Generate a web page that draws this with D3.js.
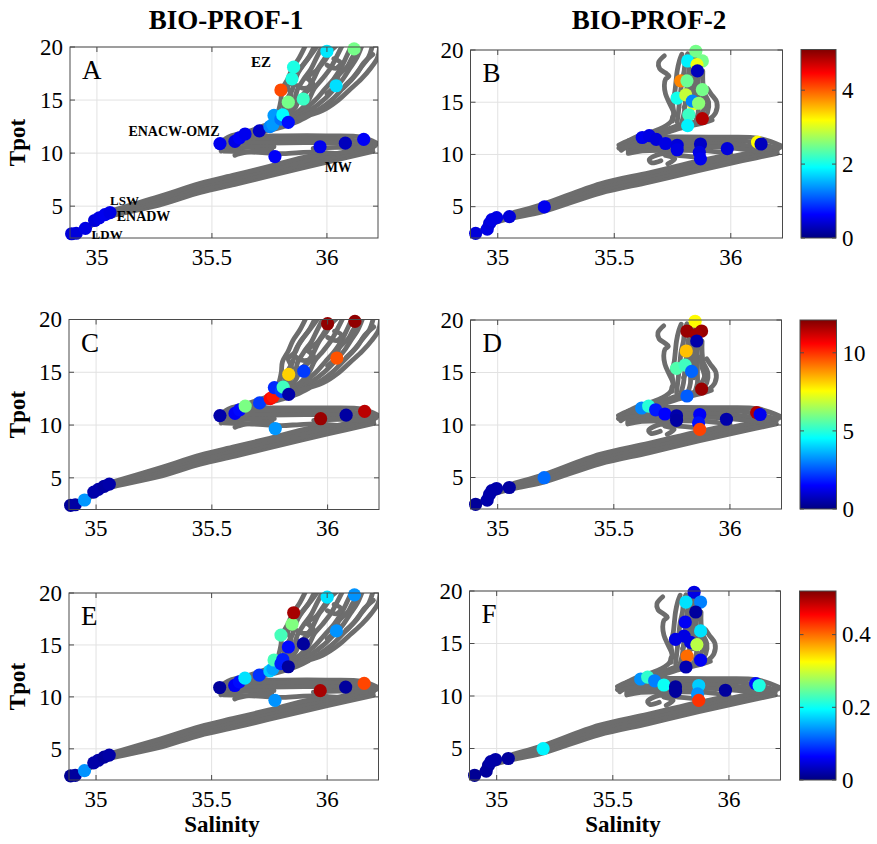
<!DOCTYPE html>
<html><head><meta charset="utf-8">
<script src="https://cdn.jsdelivr.net/npm/d3@7"></script>
<style>
body{margin:0;background:#fff}
svg{display:block}
text{font-family:"Liberation Serif","Times New Roman",serif;fill:#000}
</style>
</head><body>
<svg id="chart" width="877" height="844"></svg>
<script>
// ---------- axes ----------
const salDomain = [34.883, 36.222];
const tpotDomain = [2, 20];
const salTicks = [35, 35.5, 36];
const salTickLabels = ['35', '35.5', '36'];
const tpotTicks = [5, 10, 15, 20];
const columnTitles = ['BIO-PROF-1', 'BIO-PROF-2'];
const panelLetters = ['A', 'B', 'C', 'D', 'E', 'F'];

// colour bars, one per row
const cbMax = [5.1, 12.1, 0.52];
const cbTicks = [[0, 2, 4], [0, 5, 10], [0, 0.2, 0.4]];
const cbTickLabels = [['0', '2', '4'], ['0', '5', '10'], ['0', '0.2', '0.4']];

// ---------- CTD T-S traces (salinity, potential temperature) ----------
const prof1Traces = [
  // deep water and the main thermocline
  [[34.89,2.4],[34.95,2.85],[35.0,3.5],[35.05,4.0],[35.27,5.1],[35.45,6.3],[35.6,7.05],[35.75,7.85],[36.0,9.15],[36.2,10.15]],
  [[34.9,2.5],[34.96,3.1],[35.02,3.85],[35.06,4.25],[35.27,5.4],[35.45,6.6],[35.6,7.35],[35.75,8.15],[36.0,9.45],[36.2,10.45]],
  [[35.06,4.45],[35.27,5.65],[35.45,6.9],[35.6,7.65],[35.75,8.45],[36.0,9.75],[36.21,10.7]],
  [[35.07,4.6],[35.27,5.9],[35.45,7.15],[35.6,7.95],[35.75,8.75],[35.9,9.6],[36.0,10.0]],
  // Mediterranean water tongue
  [[36.22,10.9],[36.15,11.5],[36.0,11.62],[35.8,11.62],[35.65,11.55],[35.57,11.35],[35.535,11.0]],
  [[36.21,10.75],[36.1,11.25],[35.9,11.3],[35.7,11.3],[35.58,11.15],[35.53,10.8]],
  [[36.19,10.6],[36.05,10.95],[35.9,10.98],[35.75,10.95],[35.6,10.85],[35.53,10.55]],
  [[36.17,10.45],[36.05,10.55],[35.94,10.45]],
  [[35.77,10.6],[35.65,10.55],[35.56,10.35],[35.54,10.2]],
  [[36.05,9.95],[35.95,10.1],[35.88,10.05],[35.8,9.95],[35.72,10.05],[35.62,10.15],[35.55,10.2]],
  [[35.76,10.35],[35.7,10.25],[35.62,9.95],[35.6,9.8]],
  // ENACW towards the surface layer
  [[35.535,11.0],[35.58,11.6],[35.65,12.0],[35.71,12.45],[35.76,12.9],[35.78,13.5]],
  [[35.6,11.55],[35.68,11.95],[35.74,12.35],[35.8,12.75],[35.86,13.15]],
  [[35.66,11.7],[35.74,12.1],[35.81,12.5],[35.87,12.95],[35.92,13.5]],
  [[35.78,13.3],[35.79,14],[35.8,15],[35.805,16],[35.83,17],[35.85,18],[35.88,19],[35.91,20.3]],
  [[35.79,13.5],[35.81,14],[35.825,15],[35.85,16],[35.86,17],[35.885,18],[35.92,19],[35.95,20.3]],
  [[35.8,13.6],[35.83,14.1],[35.86,15],[35.87,15.9],[35.9,17],[35.93,17.9],[35.955,19],[35.985,20.3]],
  [[35.82,13.6],[35.86,14.2],[35.88,15.1],[35.915,16],[35.94,16.9],[35.965,18],[36.0,19],[36.025,20.3]],
  [[35.83,13.5],[35.88,14],[35.92,15],[35.945,16.1],[35.98,17],[36.015,18],[36.04,19],[36.07,20.3]],
  [[35.85,13.5],[35.9,14.1],[35.95,15],[35.99,16],[36.03,17],[36.06,18],[36.085,19.1],[36.11,20.3]],
  [[35.86,13.4],[35.93,14.1],[35.985,15],[36.03,16],[36.07,17],[36.1,18],[36.13,19],[36.155,20.3]],
  [[35.87,13.35],[35.955,14],[36.02,15],[36.065,16],[36.11,17],[36.145,18],[36.18,19],[36.2,20.3]],
  [[35.88,13.3],[35.98,14],[36.05,15],[36.1,16],[36.15,17],[36.19,18],[36.22,19],[36.23,20.3]],
  [[35.86,16.5],[35.9,16.1],[35.94,16.5],[35.91,17.1]],
  [[36.0,18.3],[36.04,18.0],[36.06,18.5],[36.03,18.9]],
  [[35.81,14.5],[35.845,15.4],[35.83,16.3],[35.86,16.9],[35.875,17.6],[35.9,18.4],[35.935,19.4],[35.965,20.3]],
  [[35.9,15.6],[35.935,16.4],[35.92,17.2],[35.955,17.8],[35.98,18.6],[36.01,19.5],[36.05,20.3]],
  [[36.0,15.6],[36.04,16.5],[36.05,17.3],[36.09,18.2],[36.11,19.0],[36.14,19.8]],
  [[36.08,16.4],[36.13,17.5],[36.16,18.5],[36.2,19.3]]
];

const prof2Traces = [
  // deep water and the main thermocline
  [[34.9,2.45],[34.95,2.9],[34.98,3.4],[35.05,3.85],[35.19,4.5],[35.44,6.3],[35.65,7.35],[35.87,8.5],[36.05,9.4],[36.2,10.1]],
  [[34.92,2.6],[34.97,3.3],[35.0,3.8],[35.05,4.05],[35.19,4.75],[35.44,6.6],[35.65,7.65],[35.87,8.8],[36.05,9.7],[36.2,10.4]],
  [[35.06,4.25],[35.19,4.95],[35.44,6.9],[35.65,7.95],[35.87,9.1],[36.05,10.0],[36.21,10.65]],
  [[35.07,4.45],[35.19,5.2],[35.44,7.2],[35.65,8.25],[35.87,9.4],[36.0,10.0]],
  // Mediterranean water tongue
  [[36.22,10.8],[36.12,11.55],[35.95,11.65],[35.75,11.68],[35.63,11.6],[35.56,11.3],[35.52,10.9]],
  [[36.2,10.6],[36.05,11.3],[35.85,11.35],[35.68,11.3],[35.57,11.05],[35.52,10.6]],
  [[36.17,10.45],[36.0,11.0],[35.8,11.02],[35.65,10.95],[35.55,10.65],[35.53,10.4]],
  [[36.12,10.3],[35.95,10.7],[35.8,10.7],[35.65,10.65],[35.56,10.3]],
  [[36.0,10.05],[35.9,10.35],[35.75,10.4],[35.62,10.35],[35.56,10.1]],
  [[35.85,9.75],[35.78,9.9],[35.7,10.05],[35.65,9.5],[35.66,9.2],[35.7,9.4]],
  [[35.73,9.1],[35.76,9.6],[35.72,9.9]],
  // ENACW towards the surface layer
  [[35.56,11.3],[35.6,11.75],[35.66,12.15],[35.71,12.6],[35.745,13.2],[35.75,13.6]],
  [[35.63,11.7],[35.69,12.1],[35.74,12.5],[35.79,12.9],[35.85,13.1]],
  [[35.68,11.75],[35.74,12.2],[35.8,12.6],[35.87,12.95],[35.92,13.3]],
  [[35.75,13.2],[35.755,14],[35.75,15],[35.76,16],[35.765,17],[35.77,18],[35.78,19],[35.79,19.6]],
  [[35.77,13.1],[35.775,14],[35.78,15],[35.785,16],[35.79,17],[35.8,18],[35.805,19],[35.815,19.65]],
  [[35.79,13.1],[35.8,14],[35.805,15],[35.81,16],[35.815,17],[35.82,18],[35.83,19],[35.835,19.6]],
  [[35.82,13.15],[35.83,14],[35.83,15],[35.835,16],[35.84,17],[35.845,18],[35.85,19],[35.855,19.5]],
  [[35.85,13.2],[35.86,14],[35.86,15],[35.86,16],[35.86,17],[35.865,18],[35.87,19],[35.87,19.3]],
  [[35.88,13.3],[35.9,14],[35.905,15],[35.885,16],[35.88,17],[35.88,18]],
  [[35.91,13.4],[35.935,14],[35.94,15],[35.915,15.8],[35.9,16.3]],
  [[35.8,14.5],[35.82,15.5],[35.825,16.5],[35.83,17.5],[35.835,18.5],[35.84,19.4]],
  [[35.845,14.5],[35.85,15.5],[35.85,16.5],[35.855,17.5],[35.86,18.5]],
  [[35.87,13.8],[35.89,14.6],[35.88,15.5],[35.875,16.5]],
  [[35.715,19.45],[35.69,18.8],[35.695,18.2],[35.72,17.8],[35.735,17.5],[35.72,17.2],[35.715,16.6],[35.72,15.8],[35.735,15.0],[35.75,14.3],[35.76,13.8]]
];

// ---------- bottle samples ----------
const prof1Sal  = [34.89,34.91,34.95,34.99,35.01,35.035,35.057, 35.535,35.60,35.62,35.644,35.706,35.752,35.765,35.77,35.80,35.808,35.832,35.832,35.80,35.897,35.848,35.855,36.04,36.0,36.118,35.774,35.97,36.08,36.16];
const prof1Tpot = [2.40,2.45,2.90,3.65,3.90,4.20,4.40, 10.90,11.10,11.45,11.80,12.10,12.50,12.70,13.55,13.20,13.60,12.90,14.80,15.95,15.10,17.0,18.1,16.35,19.6,19.82,9.67,10.6,10.94,11.3];
const valuesA = [0.45,0.45,0.5,0.45,0.5,0.55,0.5, 0.55,0.5,0.6,0.55,0.35, 1.3,1.4,1.4,1.2,1.9,0.7,2.5,4.1,2.2,2.05,2.05,1.75,1.8,2.5, 0.6,0.55,0.3,0.6];
const valuesC = [0.3,0.4,3.3,0.5,0.5,0.4,0.5, 0.5,1.4,1.6,6.0,2.2, 10.5,10.3,2.0,2.3,5.3,0.5,8.1,null,2.2,null,null,9.6,11.9,11.9, 3.3,11.8,0.4,11.4];
const valuesE = [0.01,0.015,0.14,0.02,0.02,0.015,0.02, 0.015,0.06,0.07,0.18,0.09, 0.17,0.15,0.23,0.08,0.08,0.015,0.07,0.23,0.015,0.26,0.5,0.14,0.18,0.14, 0.14,0.5,0.015,0.42];

const prof2Sal  = [34.905,34.955,34.965,34.975,34.995,35.05,35.20, 35.62,35.65,35.68,35.72,35.77,35.77,35.87,35.865,35.87,35.985,36.115,36.13, 35.85,35.815,35.878,35.855,35.857,35.785,35.812,35.878,35.77,35.807,35.84,35.835,35.862,35.82,35.878,35.815];
const prof2Tpot = [2.45,2.85,3.40,3.75,3.95,4.05,4.98, 11.62,11.80,11.45,11.05,10.88,10.45,11.00,10.20,9.58,10.55,11.18,11.00, 19.88,18.95,18.95,18.6,18.0,17.05,17.05,16.2,15.4,15.7,14.85,15.1,14.9,13.8,13.42,12.76];
const valuesB = [0.45,0.5,0.45,0.5,0.5,0.45,0.55, 0.55,0.5,0.45,0.5,0.45,0.5,0.35,0.5,0.55,0.45,3.2,0.3, 2.5,1.85,2.5,3.1,0.3,3.8,2.45,2.5,2.0,2.9,3.1,1.3,2.6,2.2,4.85,1.85];
const valuesD = [0.3,0.5,0.5,0.5,0.5,0.4,2.8, 3.1,5.0,1.8,1.5,0.5,0.4,1.4,1.7,9.8,0.5,11.5,1.3, 7.6,11.8,11.8,11.7,0.5,null,8.3,null,5.5,5.3,null,2.7,null,null,11.8,2.6];
const valuesF = [0.01,0.015,0.015,0.02,0.02,0.015,0.19, 0.14,0.22,0.13,0.2,0.015,0.015,0.17,0.14,0.43,0.015,0.07,0.21, 0.05,0.18,0.13,null,0.015,null,0.06,0.18,0.05,0.05,null,0.05,0.29,0.4,0.06,0.025];

// water-mass labels (panel A)
const massNames = ['EZ', 'ENACW-OMZ', 'MW', 'LSW', 'ENADW', 'LDW'];
const massSal   = [35.67, 35.137, 35.99, 35.057, 35.086, 34.977];
const massTpot  = [18.16, 11.61, 8.25, 5.11, 3.6, 1.88];
const massSize  = [15, 14, 14, 13, 14, 13];

// MATLAB jet
const jetStops = [0, 0.125, 0.375, 0.625, 0.875, 1];
const jetColors = ['#000080', '#0000ff', '#00ffff', '#ffff00', '#ff0000', '#800000'];

// ---------- page layout ----------
const boxes = [
  {x0: 70,    x1: 378,   y0: 47,    y1: 238},
  {x0: 470.5, x1: 782.5, y0: 50,    y1: 238},
  {x0: 69,    x1: 379,   y0: 319.5, y1: 509.5},
  {x0: 470.5, x1: 781.5, y0: 320,   y1: 509},
  {x0: 69,    x1: 378.5, y0: 593,   y1: 780},
  {x0: 469.5, x1: 780.5, y0: 591,   y1: 780}
];
const cbBoxes = [
  {x0: 801, x1: 836, y0: 49.5, y1: 238},
  {x0: 800, x1: 836.5, y0: 320, y1: 509},
  {x0: 799.5, x1: 836, y0: 591, y1: 780}
];

const panels = [
  {traces: prof1Traces, sal: prof1Sal, tpot: prof1Tpot, values: valuesA},
  {traces: prof2Traces, sal: prof2Sal, tpot: prof2Tpot, values: valuesB},
  {traces: prof1Traces, sal: prof1Sal, tpot: prof1Tpot, values: valuesC},
  {traces: prof2Traces, sal: prof2Sal, tpot: prof2Tpot, values: valuesD},
  {traces: prof1Traces, sal: prof1Sal, tpot: prof1Tpot, values: valuesE},
  {traces: prof2Traces, sal: prof2Sal, tpot: prof2Tpot, values: valuesF}
];

const svg = d3.select('#chart');
const defs = svg.append('defs');
const boxColor = '#4a4a4a';
const gridColor = '#e2e2e2';
const traceColor = '#6d6d6d';

function jetScale(max) {
  return d3.scaleLinear().domain(jetStops.map(t => t * max)).range(jetColors).clamp(true);
}

panels.forEach((p, i) => {
  const b = boxes[i];
  const row = Math.floor(i / 2), col = i % 2;
  const x = d3.scaleLinear().domain(salDomain).range([b.x0, b.x1]);
  const y = d3.scaleLinear().domain(tpotDomain).range([b.y1, b.y0]);
  const color = jetScale(cbMax[row]);
  const g = svg.append('g');

  defs.append('clipPath').attr('id', 'clip' + i)
    .append('rect').attr('x', b.x0).attr('y', b.y0)
    .attr('width', b.x1 - b.x0).attr('height', b.y1 - b.y0);

  // grid
  g.append('g').selectAll('line').data(salTicks).join('line')
    .attr('x1', d => x(d)).attr('x2', d => x(d))
    .attr('y1', b.y0).attr('y2', b.y1)
    .attr('stroke', gridColor).attr('stroke-width', 1);
  g.append('g').selectAll('line').data(tpotTicks).join('line')
    .attr('x1', b.x0).attr('x2', b.x1)
    .attr('y1', d => y(d)).attr('y2', d => y(d))
    .attr('stroke', gridColor).attr('stroke-width', 1);

  // CTD traces
  const line = d3.line().x(d => x(d[0])).y(d => y(d[1])).curve(d3.curveCatmullRom.alpha(0.5));
  g.append('g').attr('clip-path', `url(#clip${i})`)
    .selectAll('path').data(p.traces).join('path')
    .attr('d', line)
    .attr('fill', 'none').attr('stroke', traceColor)
    .attr('stroke-width', 4.8).attr('stroke-linejoin', 'round').attr('stroke-linecap', 'round');

  // samples
  const pts = p.sal.map((s, k) => ({s, t: p.tpot[k], v: p.values[k]})).filter(d => d.v !== null);
  g.append('g').selectAll('circle').data(pts).join('circle')
    .attr('cx', d => x(d.s)).attr('cy', d => y(d.t)).attr('r', 6.6)
    .attr('fill', d => color(d.v));

  // box
  g.append('rect').attr('x', b.x0).attr('y', b.y0)
    .attr('width', b.x1 - b.x0).attr('height', b.y1 - b.y0)
    .attr('fill', 'none').attr('stroke', boxColor).attr('stroke-width', 1);

  // ticks (inside, mirrored)
  const tk = 5;
  const tg = g.append('g').attr('stroke', boxColor).attr('stroke-width', 1);
  salTicks.forEach(v => {
    tg.append('line').attr('x1', x(v)).attr('x2', x(v)).attr('y1', b.y1).attr('y2', b.y1 - tk);
    tg.append('line').attr('x1', x(v)).attr('x2', x(v)).attr('y1', b.y0).attr('y2', b.y0 + tk);
  });
  tpotTicks.forEach(v => {
    tg.append('line').attr('x1', b.x0).attr('x2', b.x0 + tk).attr('y1', y(v)).attr('y2', y(v));
    tg.append('line').attr('x1', b.x1).attr('x2', b.x1 - tk).attr('y1', y(v)).attr('y2', y(v));
  });

  // tick labels
  g.append('g').selectAll('text').data(salTicks).join('text')
    .attr('x', d => x(d)).attr('y', b.y1 + 26.5)
    .attr('text-anchor', 'middle').attr('font-size', 23)
    .text((d, k) => salTickLabels[k]);
  g.append('g').selectAll('text').data(tpotTicks).join('text')
    .attr('x', b.x0 - 7).attr('y', d => y(d)).attr('dy', '0.34em')
    .attr('text-anchor', 'end').attr('font-size', 23)
    .text(d => d);

  // panel letter
  g.append('text').attr('x', b.x0 + 12).attr('y', b.y0 + 32)
    .attr('font-size', 27).text(panelLetters[i]);

  if (col === 0) {
    const cy = (b.y0 + b.y1) / 2;
    g.append('text').attr('transform', `translate(25,${cy}) rotate(-90)`)
      .attr('text-anchor', 'middle').attr('font-size', 23).attr('font-weight', 'bold')
      .text('Tpot');
  }
  if (row === 2) {
    g.append('text').attr('x', col === 0 ? 222 : 623).attr('y', 832)
      .attr('text-anchor', 'middle').attr('font-size', 23).attr('font-weight', 'bold')
      .text('Salinity');
  }
  if (i === 0) {
    g.append('g').selectAll('text').data(massNames).join('text')
      .attr('x', (d, k) => x(massSal[k])).attr('y', (d, k) => y(massTpot[k]))
      .attr('font-size', (d, k) => massSize[k]).attr('font-weight', 'bold')
      .text(d => d);
  }

  // colour bar
  if (col === 1) {
    const cb = cbBoxes[row];
    const gid = 'jet' + row;
    const grad = defs.append('linearGradient').attr('id', gid)
      .attr('x1', 0).attr('y1', 1).attr('x2', 0).attr('y2', 0);
    grad.selectAll('stop').data(jetStops).join('stop')
      .attr('offset', d => d).attr('stop-color', (d, k) => jetColors[k]);
    const cs = d3.scaleLinear().domain([0, cbMax[row]]).range([cb.y1, cb.y0]);
    g.append('rect').attr('x', cb.x0).attr('y', cb.y0)
      .attr('width', cb.x1 - cb.x0).attr('height', cb.y1 - cb.y0)
      .attr('fill', `url(#${gid})`).attr('stroke', boxColor).attr('stroke-width', 1);
    const ctg = g.append('g').attr('stroke', boxColor).attr('stroke-width', 1);
    cbTicks[row].forEach(v => {
      ctg.append('line').attr('x1', cb.x1).attr('x2', cb.x1 - 4).attr('y1', cs(v)).attr('y2', cs(v));
      ctg.append('line').attr('x1', cb.x0).attr('x2', cb.x0 + 4).attr('y1', cs(v)).attr('y2', cs(v));
    });
    g.append('g').selectAll('text').data(cbTicks[row]).join('text')
      .attr('x', cb.x1 + 6).attr('y', d => cs(d)).attr('dy', '0.34em')
      .attr('font-size', 23)
      .text((d, k) => cbTickLabels[row][k]);
  }
});

// column titles
svg.append('g').selectAll('text').data(columnTitles).join('text')
  .attr('x', (d, k) => k === 0 ? 226 : 649).attr('y', 29)
  .attr('text-anchor', 'middle').attr('font-size', 27).attr('font-weight', 'bold')
  .text(d => d);
</script>
</body></html>
